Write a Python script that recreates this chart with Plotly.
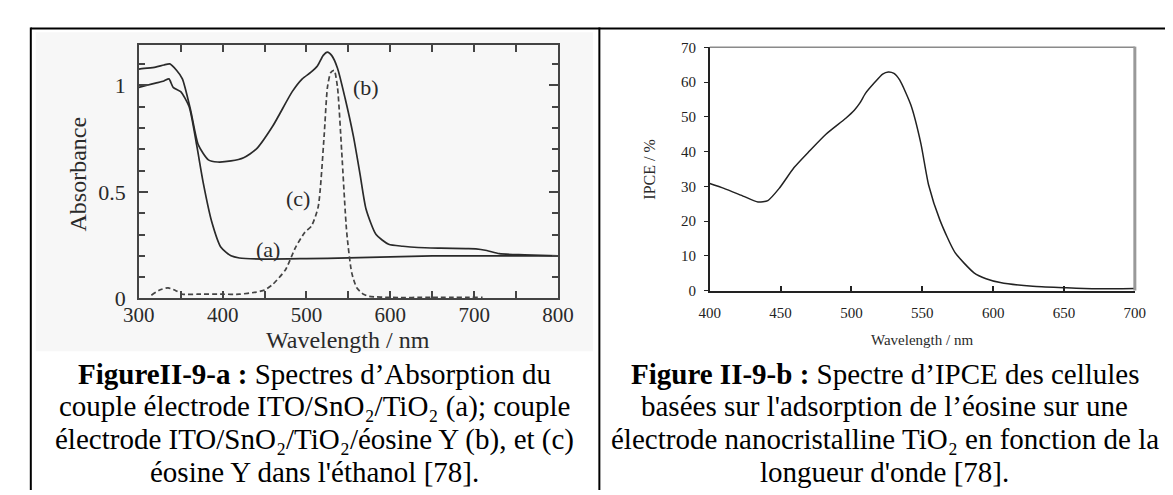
import plotly.graph_objects as go

W, H = 1173, 495

# ---- Left chart: absorption spectra ----
wl_a = [300, 310, 320, 330, 336, 341, 350, 360, 369, 377, 387, 398, 410, 420, 450, 500, 550, 600, 650, 700, 750, 800]
abs_a = [0.99, 1.00, 1.01, 1.02, 1.03, 0.99, 0.97, 0.90, 0.72, 0.54, 0.36, 0.24, 0.20, 0.19, 0.185, 0.187, 0.19, 0.195, 0.20, 0.20, 0.20, 0.20]

wl_b = [300, 310, 320, 330, 337, 345, 352, 362, 371, 383, 394, 410, 425, 440, 460, 483, 495, 505, 513, 520, 525, 530, 537, 546, 556, 564, 571, 583, 598, 615, 633, 660, 690, 702, 715, 730, 760, 800]
abs_b = [1.076, 1.08, 1.085, 1.095, 1.10, 1.07, 1.03, 0.88, 0.72, 0.65, 0.64, 0.645, 0.66, 0.70, 0.81, 0.97, 1.03, 1.06, 1.09, 1.14, 1.155, 1.14, 1.08, 0.94, 0.76, 0.58, 0.42, 0.30, 0.254, 0.245, 0.239, 0.236, 0.234, 0.233, 0.225, 0.21, 0.205, 0.20]

wl_c = [315, 325, 335, 345, 352, 370, 400, 420, 440, 450, 460, 475, 487, 498, 506, 514, 521, 525, 529, 533, 537, 542, 548, 554, 560, 568, 575, 600, 650, 710]
abs_c = [0.015, 0.04, 0.05, 0.035, 0.02, 0.02, 0.02, 0.02, 0.03, 0.04, 0.067, 0.135, 0.24, 0.31, 0.34, 0.43, 0.76, 0.99, 1.06, 1.07, 0.99, 0.69, 0.31, 0.12, 0.05, 0.02, 0.01, 0.005, 0.005, 0.005]

left_xticks = [300, 400, 500, 600, 700, 800]
left_yticks = [0, 0.5, 1]

# ---- Right chart: IPCE ----
wl_i = [400, 410, 424, 434, 441, 449, 459.5, 470, 482, 496, 502, 506, 510, 516, 522, 526, 530, 534, 542, 549, 554.5, 562.5, 573, 586.5, 595, 605, 628, 650, 671, 700]
ipce = [30.8, 29.4, 27.1, 25.5, 25.9, 29.4, 35.4, 40, 45, 49.6, 51.9, 54.0, 56.8, 59.7, 62.3, 62.9, 62.5, 60.6, 53.3, 42.3, 30.3, 20.2, 11.0, 5.1, 3.4, 2.3, 1.2, 0.8, 0.5, 0.6]

right_xticks = [400, 450, 500, 550, 600, 650, 700]
right_yticks = [0, 10, 20, 30, 40, 50, 60, 70]

SERIF = "Liberation Serif, Times New Roman, serif"

def px(x):
    return x / W

def py(y):
    return 1 - y / H

fig = go.Figure()

LC = "#2a2a2a"
fig.add_trace(go.Scatter(x=wl_a, y=abs_a, mode="lines", line=dict(color=LC, width=1.7, shape="spline", smoothing=0.6),
                         xaxis="x", yaxis="y", showlegend=False))
fig.add_trace(go.Scatter(x=wl_b, y=abs_b, mode="lines", line=dict(color=LC, width=1.7, shape="spline", smoothing=0.6),
                         xaxis="x", yaxis="y", showlegend=False))
fig.add_trace(go.Scatter(x=wl_c, y=abs_c, mode="lines", line=dict(color="#444", width=1.7, dash="5px,3px", shape="spline", smoothing=0.6),
                         xaxis="x", yaxis="y", showlegend=False))
fig.add_trace(go.Scatter(x=wl_i, y=ipce, mode="lines", line=dict(color="#222", width=1.5, shape="spline", smoothing=0.6),
                         xaxis="x2", yaxis="y2", showlegend=False))

fig.update_layout(
    width=W, height=H, margin=dict(l=0, r=0, t=0, b=0),
    paper_bgcolor="white", plot_bgcolor="rgba(0,0,0,0)",
    xaxis=dict(domain=[px(118), px(549)], range=[300, 800], anchor="y",
               tickvals=left_xticks, ticktext=[str(v) for v in left_xticks],
               ticks="inside", ticklen=8, tickwidth=1.5, tickcolor="#444",
               minor=dict(dtick=50, ticks="inside", ticklen=8, tickwidth=1.5, tickcolor="#444"),
               showline=True, linecolor="#444", linewidth=1.5, mirror="ticks",
               showgrid=False, zeroline=False, ticklabelstandoff=-3,
               tickfont=dict(family=SERIF, size=21, color="#2a2a2a")),
    yaxis=dict(domain=[py(295), py(30)], range=[0, 1.19], anchor="x",
               tickvals=left_yticks, ticktext=["0", "0.5", "1"],
               ticks="inside", ticklen=9, tickwidth=1.5, tickcolor="#444",
               minor=dict(dtick=0.1, ticks="inside", ticklen=6, tickwidth=1.5, tickcolor="#444"),
               showline=True, linecolor="#444", linewidth=1.5, mirror="ticks",
               showgrid=False, zeroline=False, ticklabelstandoff=7,
               tickfont=dict(family=SERIF, size=22, color="#2a2a2a")),
    xaxis2=dict(domain=[px(705), px(1142)], range=[400, 700], anchor="y2",
                tickvals=right_xticks, ticks="inside", ticklen=5, tickwidth=1.5, tickcolor="#222",
                showline=True, linecolor="#222", linewidth=1.5,
                showgrid=False, zeroline=False, ticklabelstandoff=8,
                tickfont=dict(family=SERIF, size=15, color="#222")),
    yaxis2=dict(domain=[py(286.7), py(32.7)], range=[0, 70], anchor="x2",
                tickvals=right_yticks, ticks="outside", ticklen=4, tickwidth=1.2, tickcolor="#222",
                showline=True, linecolor="#222", linewidth=1.5,
                showgrid=False, zeroline=False, ticklabelstandoff=5,
                tickfont=dict(family=SERIF, size=15, color="#222")),
)

shapes = []
shapes.append(dict(type="rect", xref="paper", yref="paper", x0=px(12), x1=px(585), y0=py(350), y1=py(17),
                   fillcolor="#f7f7f7", line=dict(width=0), layer="below"))
shapes.append(dict(type="line", xref="paper", yref="paper", x0=px(705), x1=px(1142), y0=py(32.7), y1=py(32.7),
                   line=dict(color="#8a8a8a", width=1.5)))
shapes.append(dict(type="line", xref="paper", yref="paper", x0=px(1142), x1=px(1142), y0=py(32), y1=py(286.7),
                   line=dict(color="#999", width=3)))
shapes.append(dict(type="line", xref="paper", yref="paper", x0=px(7), x1=1, y0=py(13), y1=py(13),
                   line=dict(color="black", width=2)))
shapes.append(dict(type="line", xref="paper", yref="paper", x0=px(7), x1=px(7), y0=py(12), y1=0,
                   line=dict(color="black", width=2)))
shapes.append(dict(type="line", xref="paper", yref="paper", x0=px(591.5), x1=px(591.5), y0=py(12), y1=0,
                   line=dict(color="black", width=2)))
fig.update_layout(shapes=shapes)

ann = []
def text(x, y, s, size, angle=0, color="#222", yanchor="middle"):
    ann.append(dict(x=px(x), y=py(y), xref="paper", yref="paper", text=s, showarrow=False,
                    font=dict(family=SERIF, size=size, color=color), textangle=angle,
                    xanchor="center", yanchor=yanchor))

text(333, 338, "Wavelength / nm", 24, color="#2a2a2a")
text(56, 165, "Absorbance", 24, angle=-90, color="#2a2a2a")
text(923, 338, "Wavelength / nm", 15, color="#2a2a2a")
text(643, 160, "IPCE / %", 16, angle=-90, color="#2a2a2a")

for lab, xv, yv in [("(a)", 454, 0.23), ("(b)", 571, 0.99), ("(c)", 490, 0.47)]:
    ann.append(dict(x=xv, y=yv, xref="x", yref="y", text=lab, showarrow=False,
                    font=dict(family=SERIF, size=22, color="#2a2a2a")))

cap_a = ["<b>FigureII-9-a :</b> Spectres d’Absorption du",
         "couple électrode ITO/SnO₂/TiO₂ (a); couple",
         "électrode ITO/SnO₂/TiO₂/éosine Y (b), et (c)",
         "éosine Y dans l'éthanol [78]."]
cap_b = ["<b>Figure II-9-b :</b> Spectre d’IPCE des cellules",
         "basées sur l'adsorption de l’éosine sur une",
         "électrode nanocristalline TiO₂ en fonction de la",
         "longueur d'onde [78]."]
line_top = [355, 389, 423, 457]
for s, yv in zip(cap_a, line_top):
    text(299, yv, s, 29, color="black", yanchor="top")
for s, yv in zip(cap_b, line_top):
    text(885, yv, s, 29, color="black", yanchor="top")

fig.update_layout(annotations=ann)
fig.write_html("out.html")
